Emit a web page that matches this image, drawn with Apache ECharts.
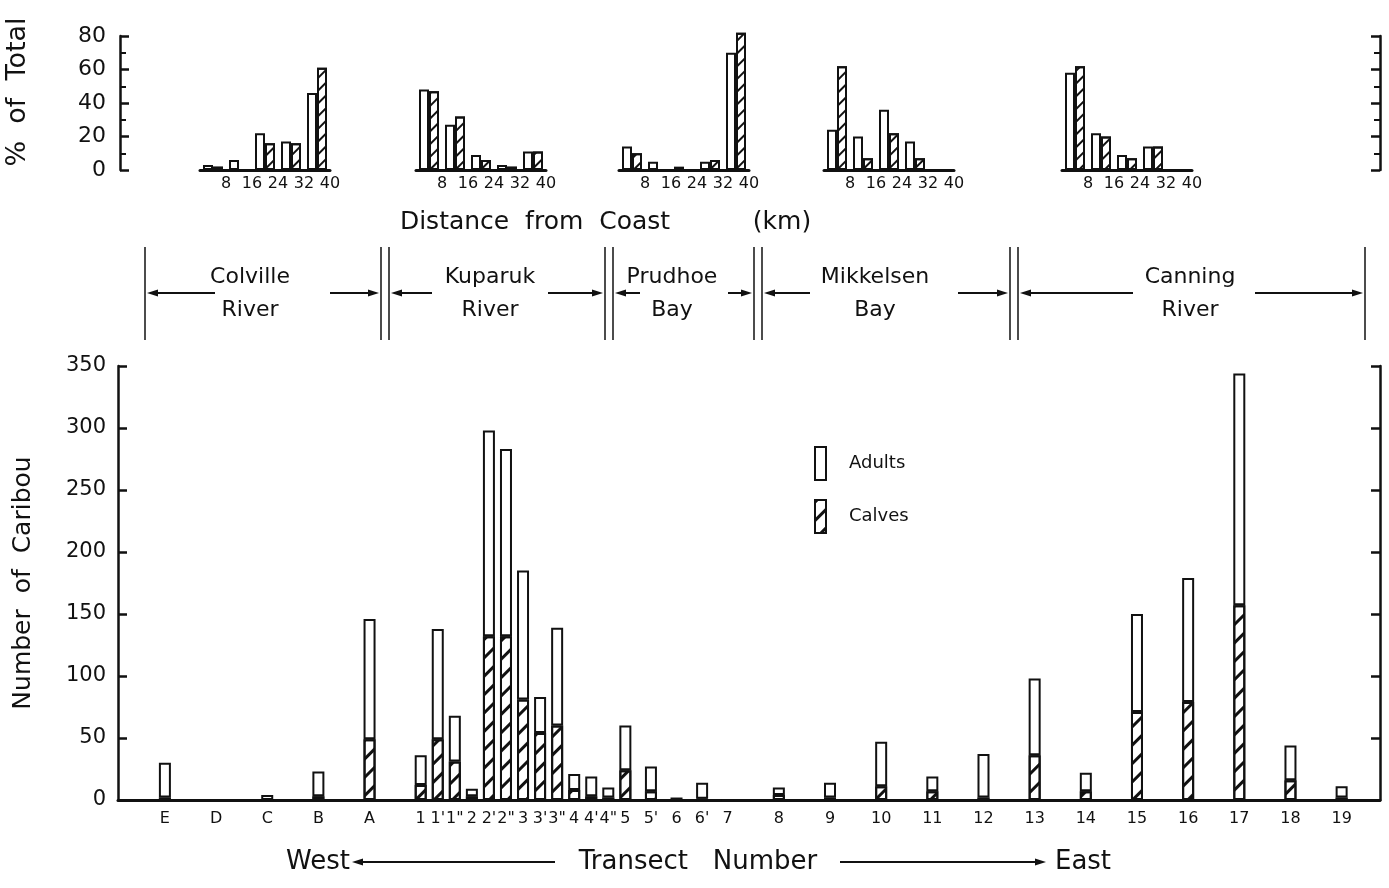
<!DOCTYPE html>
<html>
<head>
<meta charset="utf-8">
<script src="https://cdn.jsdelivr.net/npm/echarts@6/dist/echarts.min.js"></script>
<style>
  html, body { margin: 0; background: #fff; }
  #chart { width: 1389px; height: 888px; }
</style>
</head>
<body>
<div id="chart"></div>
<script>
// transects, west to east, and their spacing index along the coast
const transects = ['E', 'D', 'C', 'B', 'A', '1', "1'", '1"', '2', "2'", '2"', '3', "3'", '3"', '4', "4'", '4"', '5', "5'", '6', "6'", '7', '8', '9', '10', '11', '12', '13', '14', '15', '16', '17', '18', '19']
const transectSlot = [0, 6, 12, 18, 24, 30, 32, 34, 36, 38, 40, 42, 44, 46, 48, 50, 52, 54, 57, 60, 63, 66, 72, 78, 84, 90, 96, 102, 108, 114, 120, 126, 132, 138]
const calves = [2, 0, 0, 3, 49, 12, 49, 31, 3, 132, 132, 81, 54, 60, 8, 3, 2, 24, 7, 0, 1, 0, 4, 2, 11, 7, 2, 36, 7, 71, 79, 157, 16, 2]
const adults = [28, 0, 4, 20, 97, 24, 89, 37, 6, 166, 151, 104, 29, 79, 13, 16, 8, 36, 20, 2, 13, 0, 6, 12, 36, 12, 35, 62, 15, 79, 100, 187, 28, 9]

// % of total by distance from coast (0-8, 8-16, 16-24, 24-32, 32-40 km)
const distBins = ['0-8', '8-16', '16-24', '24-32', '32-40']
const colvilleAdults = [3, 6, 22, 17, 46]
const colvilleCalves = [2, 0, 16, 16, 61]
const kuparukAdults = [48, 27, 9, 3, 11]
const kuparukCalves = [47, 32, 6, 2, 11]
const prudhoeAdults = [14, 5, 2, 5, 70]
const prudhoeCalves = [10, 0, 0, 6, 82]
const mikkelsenAdults = [24, 20, 36, 17, 0]
const mikkelsenCalves = [62, 7, 22, 7, 0]
const canningAdults = [58, 22, 9, 14, 0]
const canningCalves = [62, 20, 7, 14, 0]

const regionNames = [['Colville', 'River'], ['Kuparuk', 'River'], ['Prudhoe', 'Bay'], ['Mikkelsen', 'Bay'], ['Canning', 'River']]

const FONT = '"DejaVu Sans", sans-serif'
const INK = '#111'

// spread transects over evenly spaced slots
const lead = 5
const nSlots = 148
const slotLabels = new Array(nSlots).fill('')
const calvesBySlot = new Array(nSlots).fill(null)
const adultsBySlot = new Array(nSlots).fill(null)
transects.forEach((t, i) => {
  const k = lead + transectSlot[i]
  slotLabels[k] = t
  calvesBySlot[k] = calves[i]
  adultsBySlot[k] = adults[i]
})

const hatch = (w, gap) => ({
  symbol: 'rect',
  symbolSize: 1,
  color: INK,
  dashArrayX: [1, 0],
  dashArrayY: [w, gap],
  rotation: -Math.PI / 4
})

const axisLine = (w) => ({ show: true, lineStyle: { color: INK, width: w } })

// grids: main, top frame, 5 histograms
const histLeft = [200, 416, 619, 824, 1062]
const grids = [
  { left: 118, right: 9, top: 366, bottom: 88 },
  { left: 120, right: 9, top: 36, height: 134 }
]
histLeft.forEach(l => grids.push({ left: l, width: 130, top: 19.25, height: 150.75 }))

const xAxes = [
  {
    type: 'category', gridIndex: 0, position: 'bottom', data: slotLabels,
    axisLine: axisLine(3), axisTick: { show: false },
    axisLabel: { interval: 0, color: INK, fontSize: 16, fontFamily: FONT, margin: 11 }
  },
  { type: 'value', gridIndex: 1, show: false, min: 0, max: 1 }
]
const yAxes = [
  {
    type: 'value', gridIndex: 0, position: 'left', min: 0, max: 350, interval: 50,
    name: 'Number  of  Caribou', nameLocation: 'middle', nameGap: 82,
    nameTextStyle: { color: INK, fontSize: 25, fontFamily: FONT },
    axisLine: axisLine(2.5), axisTick: { show: true, inside: true, length: 9, lineStyle: { color: INK, width: 2.5 } },
    axisLabel: { color: INK, fontSize: 21, fontFamily: FONT, margin: 12 },
    splitLine: { show: false }
  },
  {
    type: 'value', gridIndex: 0, position: 'right', min: 0, max: 350, interval: 50,
    axisLine: axisLine(2.5), axisTick: { show: true, inside: true, length: 9, lineStyle: { color: INK, width: 2.5 } },
    axisLabel: { show: false }, splitLine: { show: false }
  },
  {
    type: 'value', gridIndex: 1, position: 'left', min: 0, max: 80, interval: 20,
    axisLine: axisLine(2.5), axisTick: { show: true, inside: true, length: 9, lineStyle: { color: INK, width: 2.5 } },
    minorTick: { show: true, splitNumber: 2, length: 6, lineStyle: { color: INK, width: 2 } },
    axisLabel: { color: INK, fontSize: 22, fontFamily: FONT, margin: 14 },
    splitLine: { show: false }
  },
  {
    type: 'value', gridIndex: 1, position: 'right', min: 0, max: 80, interval: 20,
    axisLine: axisLine(2.5), axisTick: { show: true, inside: true, length: 9, lineStyle: { color: INK, width: 2.5 } },
    minorTick: { show: true, splitNumber: 2, length: 6, lineStyle: { color: INK, width: 2 } },
    axisLabel: { show: false }, splitLine: { show: false }
  }
]

const histAdults = [colvilleAdults, kuparukAdults, prudhoeAdults, mikkelsenAdults, canningAdults]
const histCalves = [colvilleCalves, kuparukCalves, prudhoeCalves, mikkelsenCalves, canningCalves]

const series = [
  {
    name: 'Calves', type: 'bar', xAxisIndex: 0, yAxisIndex: 0, stack: 'n', barWidth: 12,
    data: calvesBySlot,
    itemStyle: { color: '#fff', borderColor: INK, borderWidth: 2, decal: hatch(2.2, 10) }
  },
  {
    name: 'Adults', type: 'bar', xAxisIndex: 0, yAxisIndex: 0, stack: 'n', barWidth: 12,
    data: adultsBySlot,
    itemStyle: { color: '#fff', borderColor: INK, borderWidth: 2 }
  }
]

histLeft.forEach((l, h) => {
  const g = 2 + h
  const xi = xAxes.length
  xAxes.push({
    type: 'category', gridIndex: g, position: 'bottom', data: distBins,
    axisLine: axisLine(3), axisTick: { show: false }, axisLabel: { show: false }
  })
  xAxes.push({
    type: 'value', gridIndex: g, position: 'bottom', min: 0, max: 40, interval: 8,
    axisLine: { show: false }, axisTick: { show: false }, splitLine: { show: false },
    axisLabel: { color: INK, fontSize: 16, fontFamily: FONT, margin: 6, formatter: v => (v === 0 ? '' : v) }
  })
  const yi = yAxes.length
  yAxes.push({ type: 'value', gridIndex: g, min: 0, max: 90, show: false })
  series.push({
    name: 'Adults %', type: 'bar', xAxisIndex: xi, yAxisIndex: yi, barWidth: 10, barGap: '0%',
    data: histAdults[h],
    itemStyle: { color: '#fff', borderColor: INK, borderWidth: 2 }
  })
  series.push({
    name: 'Calves %', type: 'bar', xAxisIndex: xi, yAxisIndex: yi, barWidth: 10, barGap: '0%',
    data: histCalves[h],
    itemStyle: { color: '#fff', borderColor: INK, borderWidth: 2, decal: hatch(1.8, 7) }
  })
})

// annotation helpers
const text = (x, y, s, size, rot) => ({
  type: 'text', x, y, rotation: rot || 0,
  style: { text: s, fill: INK, fontSize: size, fontFamily: FONT, align: 'center', verticalAlign: 'middle' }
})
const vline = (x, y1, y2) => ({ type: 'line', shape: { x1: x, y1, x2: x, y2 }, style: { stroke: INK, lineWidth: 1.5 } })
const arrow = (from, to, y) => {
  const d = to > from ? -1 : 1
  return [
    { type: 'line', shape: { x1: from, y1: y, x2: to + d * 6, y2: y }, style: { stroke: INK, lineWidth: 2 } },
    { type: 'polygon', shape: { points: [[to, y], [to + d * 11, y - 3.5], [to + d * 11, y + 3.5]] }, style: { fill: INK } }
  ]
}

const graphics = [
  text(18, 92, '%  of  Total', 27, Math.PI / 2),
  text(535, 222, 'Distance  from  Coast', 25),
  text(782, 222, '(km)', 25),
  text(318, 862, 'West', 26),
  text(698, 862, 'Transect   Number', 26),
  text(1083, 862, 'East', 26),
  ...arrow(555, 352, 862),
  ...arrow(840, 1046, 862)
]

// region band
const bandLines = [145, 381, 389, 605, 613, 754, 762, 1010, 1018, 1365]
bandLines.forEach(x => graphics.push(vline(x, 247, 340)))
const regionCenters = [250, 490, 672, 875, 1190]
const regionArrows = [[215, 147, 330, 379], [432, 391, 548, 603], [640, 615, 728, 752], [810, 764, 958, 1008], [1133, 1020, 1255, 1363]]
regionNames.forEach((r, i) => {
  graphics.push(text(regionCenters[i], 277, r[0], 22))
  graphics.push(text(regionCenters[i], 310, r[1], 22))
  const a = regionArrows[i]
  graphics.push(...arrow(a[0], a[1], 293), ...arrow(a[2], a[3], 293))
})

const chart = echarts.init(document.getElementById('chart'))
chart.setOption({
  backgroundColor: '#fff',
  animation: false,
  grid: grids,
  xAxis: xAxes,
  yAxis: yAxes,
  legend: {
    data: ['Adults', 'Calves'], orient: 'vertical', left: 814, top: 446, icon: 'rect',
    itemWidth: 11, itemHeight: 33, itemGap: 18, padding: 0,
    textStyle: { color: INK, fontSize: 18, fontFamily: FONT, padding: [8, 0, 0, 18] }
  },
  graphic: graphics,
  series
})
</script>
</body>
</html>
